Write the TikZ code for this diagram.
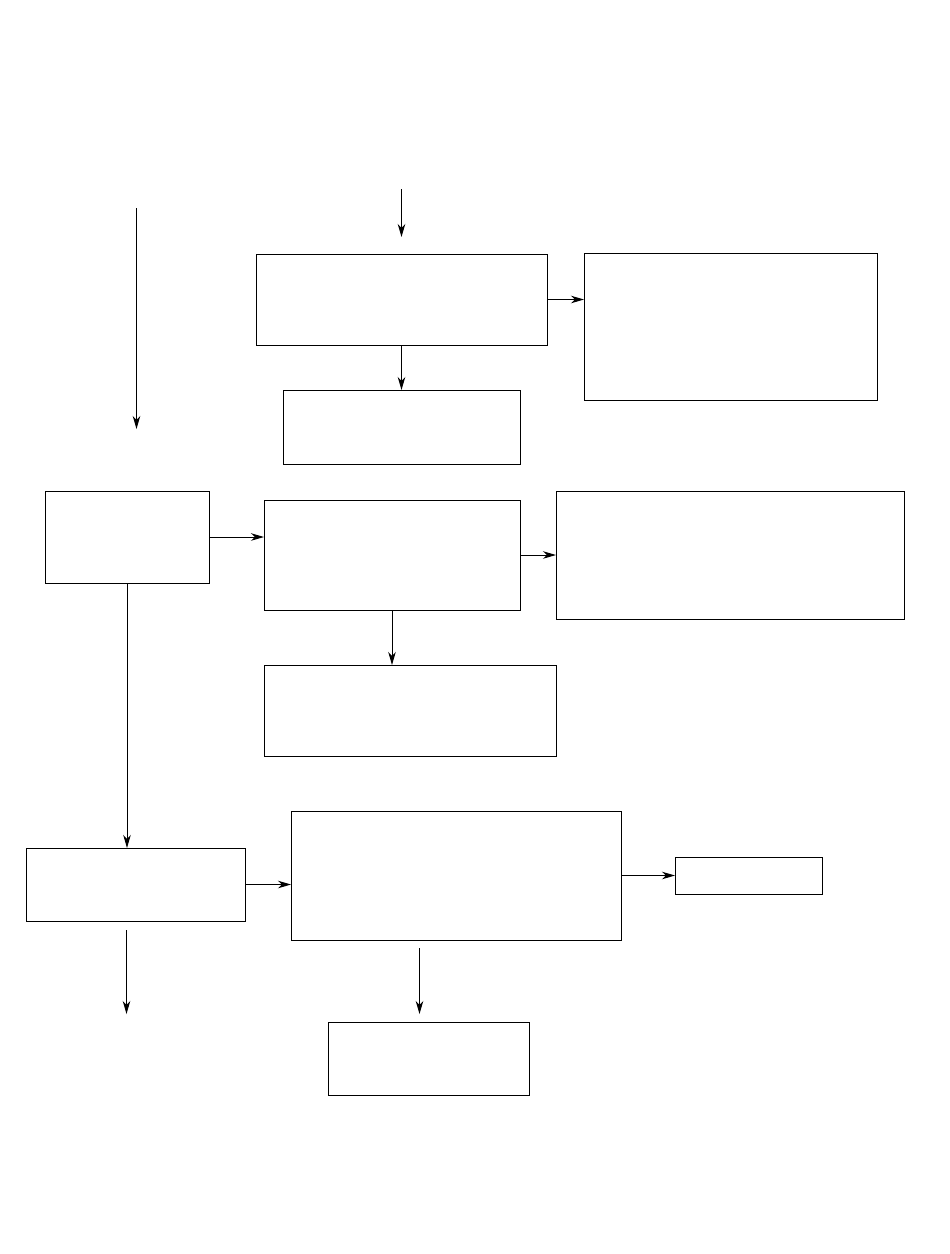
\documentclass[tikz,border=0pt]{standalone}
\usetikzlibrary{arrows.meta}
\begin{document}
\begin{tikzpicture}[x=1pt,y=-1pt,
  box/.style={draw, line width=1pt, inner sep=0pt, outer sep=0pt},
  conn/.style={line width=1pt, -{Stealth[length=13pt,width=7.5pt,inset=4pt]}}]
\useasboundingbox[fill=white] (0,0) rectangle (950,1254);
\node[box, minimum width=291pt, minimum height=91pt] (b1) at (401.5,299.5) {};
\node[box, minimum width=293pt, minimum height=147pt] (b2) at (730.5,326.5) {};
\node[box, minimum width=237pt, minimum height=74pt] (b3) at (401.5,427) {};
\node[box, minimum width=164pt, minimum height=92pt] (b4) at (127,537) {};
\node[box, minimum width=256pt, minimum height=110pt] (b5) at (392,555) {};
\node[box, minimum width=348pt, minimum height=128pt] (b6) at (730,555) {};
\node[box, minimum width=292pt, minimum height=91pt] (b7) at (410,710.5) {};
\node[box, minimum width=219pt, minimum height=73pt] (b8) at (135.5,884.5) {};
\node[box, minimum width=330pt, minimum height=129pt] (b9) at (456,875.5) {};
\node[box, minimum width=147pt, minimum height=37pt] (b10) at (748.5,875.5) {};
\node[box, minimum width=201pt, minimum height=73pt] (b11) at (428.5,1058.5) {};
\coordinate (t1s) at (401.5,189);
\coordinate (t1e) at (401.5,237);
\coordinate (l1s) at (136.5,208);
\coordinate (l1e) at (136.5,429);
\coordinate (l2s) at (126.5,930);
\coordinate (l2e) at (126.5,1014);
\coordinate (m2s) at (419.5,948);
\coordinate (m2e) at (419.5,1014);
\draw[conn] (t1s) -- (t1e);
\draw[conn] (l1s) -- (l1e);
\draw[conn] (l2s) -- (l2e);
\draw[conn] (m2s) -- (m2e);
\draw[conn] (b1.east) -- (b1.east -| b2.west);
\draw[conn] (b1.south) -- (b1.south |- b3.north);
\draw[conn] (b4.east) -- (b4.east -| b5.west);
\draw[conn] (b5.east) -- (b5.east -| b6.west);
\draw[conn] (b5.south) -- (b5.south |- b7.north);
\draw[conn] (b4.south) -- (b4.south |- b8.north);
\draw[conn] (b8.east) -- (b8.east -| b9.west);
\draw[conn] (b9.east) -- (b9.east -| b10.west);
\end{tikzpicture}
\end{document}
